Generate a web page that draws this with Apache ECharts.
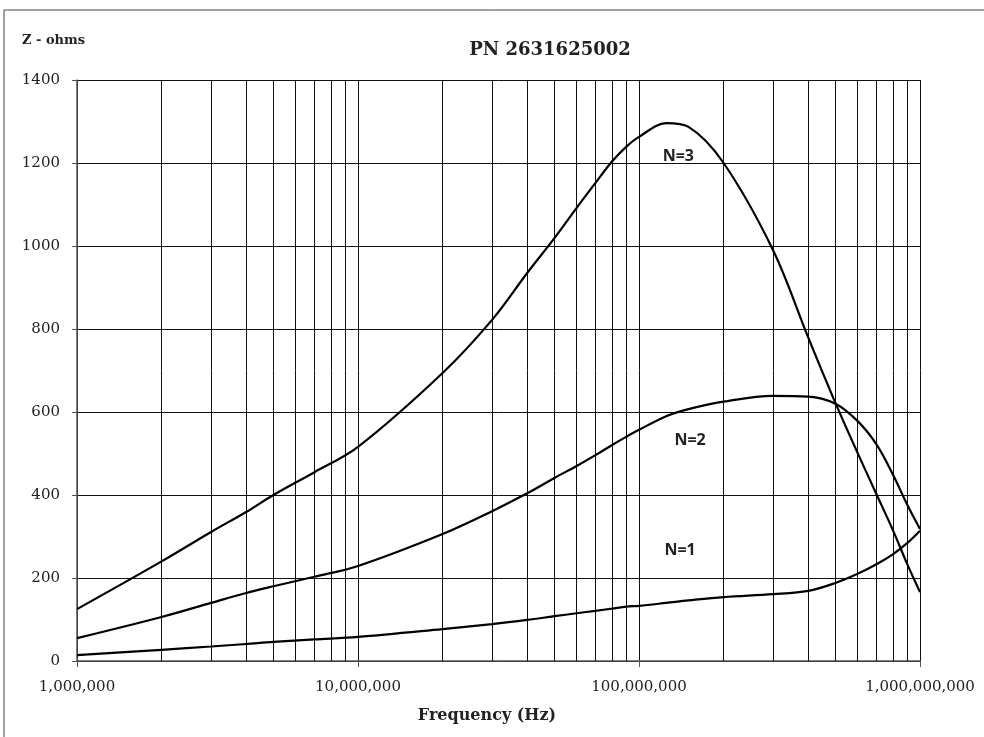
<!DOCTYPE html>
<html>
<head>
<meta charset="utf-8">
<script src="https://cdn.jsdelivr.net/npm/echarts@6/dist/echarts.min.js"></script>
<style>
  html, body { margin: 0; padding: 0; background: #fff; }
  #chart { width: 984px; height: 737px; }
</style>
</head>
<body>
<div id="chart"></div>
<script>
// frequencies (Hz) where the curves were read
const freqs = [1e6, 2e6, 3e6, 4e6, 5e6, 7e6, 1e7, 2e7, 3e7, 4e7, 5e7, 6e7, 7e7, 8e7, 9e7,
  1e8, 1.25e8, 1.5e8, 2e8, 3e8, 4e8, 5e8, 6e8, 7e8, 8e8, 9e8, 1e9];
// impedance (ohms)
const n3 = [125, 240, 311, 359, 400, 455, 516, 694, 822, 935, 1019, 1092, 1152, 1203, 1239,
  1263, 1296, 1287, 1200, 990, 780, 622, 501, 402, 316, 234, 166];
const n2 = [55, 106, 140, 164, 180, 203, 229, 306, 361, 404, 441, 470, 496, 520, 540,
  557, 590, 607, 625, 639, 637, 620, 578, 522, 450, 377, 318];
const n1 = [14, 27, 35, 41, 46, 52, 58, 77, 89, 99, 108, 115, 121, 126, 131,
  133, 140, 146, 154, 161, 169, 188, 210, 233, 257, 284, 314];
// minor log grid lines
const minorLines = [];
[1e6, 1e7, 1e8].forEach(function (d) {
  for (let k = 2; k <= 9; k++) minorLines.push(k * d);
});
// curve labels: [text, freq, value]
const curveLabels = [["N=3", 1.38e8, 1215], ["N=2", 1.52e8, 532], ["N=1", 1.4e8, 266]];

const serif = "DejaVu Serif";

function pairs(vals) {
  return freqs.map(function (f, i) { return [f, vals[i]]; });
}

function lineSeries(name, vals, idx) {
  const s = {
    name: name,
    type: "line",
    data: pairs(vals),
    smooth: 0.35,
    symbol: "none",
    lineStyle: { color: "#000", width: 2.2 },
    z: 5,
    markPoint: {
      symbol: "circle",
      symbolSize: 0,
      silent: true,
      label: {
        show: true,
        formatter: curveLabels[idx][0],
        fontFamily: "Open Sans",
        fontWeight: "bold",
        fontSize: 16,
        color: "#222"
      },
      data: [{ coord: [curveLabels[idx][1], curveLabels[idx][2]] }]
    }
  };
  if (idx === 0) {
    s.markLine = {
      silent: true,
      symbol: "none",
      label: { show: false },
      lineStyle: { color: "#111", width: 1, type: "solid" },
      data: minorLines.map(function (v) { return { xAxis: v }; })
    };
  }
  return s;
}

let myChart = echarts.init(document.getElementById("chart"));
let option = {
  animation: false,
  backgroundColor: "#fff",
  title: {
    text: "PN 2631625002",
    left: 545,
    textAlign: "center",
    top: 36,
    textStyle: { fontFamily: serif, fontWeight: "bold", fontSize: 18, color: "#222" }
  },
  graphic: [
    {
      type: "rect",
      shape: { x: 4, y: 10, width: 990, height: 740 },
      style: { fill: null, stroke: "#444", lineWidth: 1 }
    },
    {
      type: "text",
      left: 22,
      top: 34,
      style: { text: "Z - ohms", font: "bold 13px 'DejaVu Serif'", fill: "#222" }
    },
    {
      type: "text",
      x: 487,
      y: 716,
      style: {
        text: "Frequency (Hz)",
        font: "bold 16px 'DejaVu Serif'",
        fill: "#222",
        align: "center",
        verticalAlign: "middle"
      }
    }
  ],
  grid: { left: 77, right: 64, top: 80, bottom: 76 },
  xAxis: {
    type: "log",
    logBase: 10,
    min: 1e6,
    max: 1e9,
    axisLine: { show: true, lineStyle: { color: "#555", width: 1.5 } },
    axisTick: { show: true, length: 6, lineStyle: { color: "#555" } },
    axisLabel: {
      fontFamily: serif,
      fontSize: 15,
      color: "#222",
      margin: 19,
      formatter: function (v) { return Number(v).toLocaleString("en-US"); }
    },
    splitLine: { show: true, lineStyle: { color: "#111", width: 1 } }
  },
  yAxis: {
    type: "value",
    min: 0,
    max: 1400,
    interval: 200,
    axisLine: { show: true, lineStyle: { color: "#555", width: 1.5 } },
    axisTick: { show: true, length: 5, lineStyle: { color: "#555" } },
    axisLabel: {
      fontFamily: serif,
      fontSize: 15,
      color: "#222",
      margin: 17,
      formatter: function (v) { return String(v); }
    },
    splitLine: { show: true, lineStyle: { color: "#111", width: 1 } }
  },
  series: [
    lineSeries("N=3", n3, 0),
    lineSeries("N=2", n2, 1),
    lineSeries("N=1", n1, 2)
  ]
};
myChart.setOption(option);
</script>
</body>
</html>
